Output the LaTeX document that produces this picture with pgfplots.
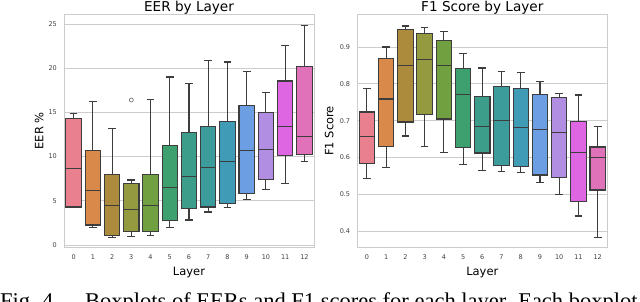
\documentclass[border=0pt]{standalone}
\usepackage{pgfplots}
\pgfplotsset{compat=1.18}
\usepgfplotslibrary{statistics}
\usepackage{fontspec}
\setmainfont{DejaVu Sans}
\newfontfamily\capfont{Liberation Serif}
\definecolor{edge}{HTML}{3D3D3D}
\definecolor{c0}{HTML}{E8808F}
\definecolor{c1}{HTML}{D98A4B}
\definecolor{c2}{HTML}{AD8B3D}
\definecolor{c3}{HTML}{949A3F}
\definecolor{c4}{HTML}{70A040}
\definecolor{c5}{HTML}{3EA06E}
\definecolor{c6}{HTML}{3C9D8A}
\definecolor{c7}{HTML}{3C9C9C}
\definecolor{c8}{HTML}{3F9BB6}
\definecolor{c9}{HTML}{6C9EE4}
\definecolor{c10}{HTML}{B28EE3}
\definecolor{c11}{HTML}{DE66E2}
\definecolor{c12}{HTML}{E072B9}
\newcommand{\bx}[7]{\addplot[boxplot prepared={draw position=#1, lower whisker=#2, lower quartile=#3, median=#4, upper quartile=#5, upper whisker=#6, box extend=0.8, whisker extend=0.4}, fill=#7, draw=edge, line width=1.1pt, mark=none] coordinates {};}
\pgfplotsset{
  myax/.style={
    scale only axis, width=250pt,
    xmin=-0.5, xmax=12.5,
    xtick={0,...,12},
    boxplot/draw direction=y,
    major tick length=0pt,
    axis line style={black!20, line width=0.9pt},
    ymajorgrids, grid style={black!20, line width=0.8pt},
    tick label style={font=\fontsize{6.5}{7}\selectfont, text=black!75, inner sep=0pt},
    /pgf/number format/assume math mode=true,
    yticklabel style={xshift=-7pt},
    xticklabel style={yshift=-7pt},
    every axis title shift=0pt,
    title style={font=\fontsize{13.6}{15}\selectfont, at={(axis description cs:0.5,1)}, anchor=base, yshift=3pt, inner sep=0pt},
    label style={font=\fontsize{11.5}{13}\selectfont},
    xlabel style={at={(axis description cs:0.5,0)}, anchor=base, yshift=-27.5pt, inner sep=0pt},
    xlabel={Layer},
  }
}
\begin{document}
\begin{tikzpicture}
\path[use as bounding box] (0pt,0pt) rectangle (640pt,301pt);
\clip (0pt,0pt) rectangle (640pt,301pt);
\begin{axis}[myax, at={(64pt,53.5pt)}, anchor=south west, height=233.5pt,
  ymin=-0.28, ymax=26.13, ytick={0,5,10,15,20,25},
  title={EER by Layer}, ylabel={EER \%},
  ylabel style={at={(axis description cs:0,0.5)}, anchor=base, yshift=20.7pt, inner sep=0pt}]
\bx{0}{4.3}{4.3}{8.7}{14.3}{14.85}{c0}
\bx{1}{1.96}{2.26}{6.2}{10.7}{16.2}{c1}
\bx{2}{0.83}{1.1}{4.5}{7.95}{13.15}{c2}
\bx{3}{0.94}{1.5}{4.0}{7.0}{7.35}{c3}
\bx{4}{1.05}{1.55}{4.45}{8.0}{16.5}{c4}
\bx{5}{2.0}{2.8}{6.5}{11.3}{19.0}{c5}
\bx{6}{2.83}{4.1}{7.8}{12.75}{18.3}{c6}
\bx{7}{3.73}{4.3}{8.75}{13.45}{20.85}{c7}
\bx{8}{4.2}{4.67}{9.4}{14.0}{20.7}{c8}
\bx{9}{5.1}{5.85}{10.7}{15.8}{19.6}{c9}
\bx{10}{6.26}{7.45}{10.85}{15.0}{17.25}{c10}
\bx{11}{7.0}{10.15}{13.4}{18.55}{22.6}{c11}
\bx{12}{9.4}{10.26}{12.3}{20.2}{24.8}{c12}
\addplot[only marks, mark=o, mark size=2pt, draw=black!55, line width=0.7pt] coordinates {(3,16.4)};
\end{axis}
\begin{axis}[myax, at={(357.3pt,53.3pt)}, anchor=south west, height=233.7pt,
  ymin=0.3555, ymax=0.9896, ytick={0.4,0.5,0.6,0.7,0.8,0.9},
  yticklabel={\pgfmathprintnumber[fixed,fixed zerofill,precision=1]{\tick}},
  title={F1 Score by Layer}, ylabel={F1 Score},
  ylabel style={at={(axis description cs:0,0.5)}, anchor=base, yshift=24pt, inner sep=0pt}]
\bx{0}{0.5427}{0.5834}{0.6567}{0.7237}{0.788}{c0}
\bx{1}{0.5726}{0.631}{0.759}{0.869}{0.9}{c1}
\bx{2}{0.6585}{0.6965}{0.851}{0.948}{0.957}{c2}
\bx{3}{0.6295}{0.716}{0.867}{0.937}{0.952}{c3}
\bx{4}{0.615}{0.7047}{0.851}{0.918}{0.9415}{c4}
\bx{5}{0.5807}{0.628}{0.7706}{0.842}{0.883}{c5}
\bx{6}{0.566}{0.6124}{0.684}{0.766}{0.843}{c6}
\bx{7}{0.5628}{0.579}{0.700}{0.7934}{0.834}{c7}
\bx{8}{0.559}{0.576}{0.682}{0.787}{0.830}{c8}
\bx{9}{0.532}{0.5527}{0.6756}{0.7706}{0.807}{c9}
\bx{10}{0.501}{0.5454}{0.667}{0.7635}{0.7744}{c10}
\bx{11}{0.4415}{0.482}{0.6133}{0.698}{0.7698}{c11}
\bx{12}{0.3827}{0.512}{0.6008}{0.6287}{0.6838}{c12}
\end{axis}
\node[anchor=base west, inner sep=0pt, font=\capfont\fontsize{22.5}{24}\selectfont] at (0pt,-7pt) {Fig.};
\node[anchor=base west, inner sep=0pt, font=\capfont\fontsize{22.5}{24}\selectfont] at (42pt,-7pt) {4.};
\node[anchor=base west, inner sep=0pt, font=\capfont\fontsize{22.5}{24}\selectfont] at (85pt,-7pt) {Boxplots of EERs and F1 scores for each layer. Each boxplot};
\end{tikzpicture}
\end{document}
